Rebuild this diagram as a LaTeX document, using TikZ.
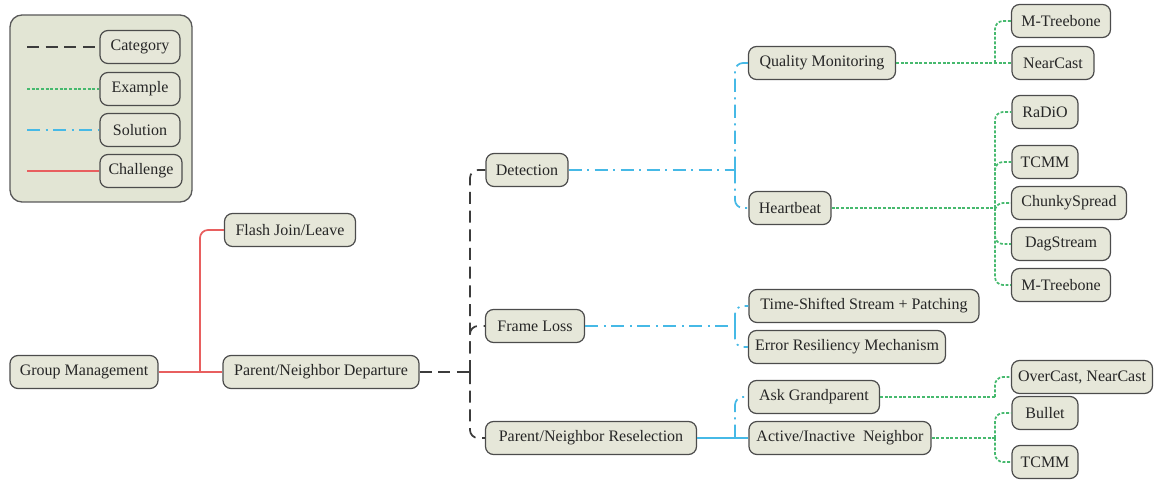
\documentclass[tikz,border=0pt]{standalone}
\usepackage{fontspec}
\setmainfont{Liberation Serif}
\begin{document}
\begin{tikzpicture}[x=0.75pt,y=-0.75pt,
  bx/.style={draw=black!70, line width=0.9pt, rounded corners=6pt, fill={rgb,255:red,230;green,231;blue,217}, inner sep=0pt, minimum height=24.75pt, text=black!85, font=\fontsize{12}{14}\selectfont},
  w/.style={minimum width=#1*0.75pt},
  cat/.style={draw={rgb,255:red,60;green,60;blue,60}, line width=1.3pt, dash pattern=on 9pt off 5pt},
  exm/.style={draw={rgb,255:red,70;green,185;blue,110}, line width=1.3pt, dash pattern=on 2.2pt off 1.3pt},
  sol/.style={draw={rgb,255:red,70;green,185;blue,230}, line width=1.3pt, dash pattern=on 10pt off 4pt on 1.5pt off 4pt},
  solf/.style={draw={rgb,255:red,70;green,185;blue,230}, line width=1.3pt},
  chal/.style={draw={rgb,255:red,232;green,95;blue,95}, line width=1.3pt},
  rc/.style={rounded corners=6pt}
]
\useasboundingbox (0,0) rectangle (1154,481);
% legend
\node[draw=black!65, line width=1pt, rounded corners=9pt, fill={rgb,255:red,226;green,229;blue,212}, minimum width=182*0.75pt, minimum height=187*0.75pt, inner sep=0pt] (leg) at (101,108.5) {};
\node[bx,w=80] (lcat) at (140,47) {Category};
\node[bx,w=80] (lex) at (140,89) {Example};
\node[bx,w=80] (lsol) at (140,130) {Solution};
\node[bx,w=82] (lch) at (141,171) {Challenge};
\coordinate (l1) at (27,47);
\coordinate (l2) at (27,89);
\coordinate (l3) at (27,130);
\coordinate (l4) at (27,171);
\draw[cat] (l1) -- (lcat.west);
\draw[exm] (l2) -- (lex.west);
\draw[sol] (l3) -- (lsol.west);
\draw[chal] (l4) -- (lch.west);
% main nodes
\node[bx,w=148] (gm) at (84,372) {Group Management};
\node[bx,w=131] (fjl) at (290,230) {Flash Join/Leave};
\node[bx,w=196] (pnd) at (321,372) {Parent/Neighbor Departure};
\node[bx,w=82] (det) at (527,170) {Detection};
\node[bx,w=99] (fl) at (535,326) {Frame Loss};
\node[bx,w=211] (pnr) at (591,438) {Parent/Neighbor Reselection};
\node[bx,w=147] (qm) at (822,63) {Quality Monitoring};
\node[bx,w=82] (hb) at (790,208) {Heartbeat};
\node[bx,w=230] (tss) at (864,306) {Time-Shifted Stream + Patching};
\node[bx,w=197] (erm) at (847,347) {Error Resiliency Mechanism};
\node[bx,w=131] (ag) at (814,397) {Ask Grandparent};
\node[bx,w=182] (ani) at (840,438) {Active/Inactive~ Neighbor};
\node[bx,w=99] (mt1) at (1061,21) {M-Treebone};
\node[bx,w=82] (nc) at (1053,63) {NearCast};
\node[bx,w=66] (radio) at (1045,112) {RaDiO};
\node[bx,w=66] (tcmm1) at (1045,162) {TCMM};
\node[bx,w=115] (chs) at (1069,203) {ChunkySpread};
\node[bx,w=99] (dag) at (1061,244) {DagStream};
\node[bx,w=99] (mt2) at (1061,285) {M-Treebone};
\node[bx,w=141] (onc) at (1082,377) {OverCast, NearCast};
\node[bx,w=66] (bul) at (1045,413) {Bullet};
\node[bx,w=66] (tcmm2) at (1045,462) {TCMM};
% junctions
\coordinate (jr) at (200,372);
\coordinate (jc) at (470,372);
\coordinate (js1) at (735,170);
\coordinate (js2) at (735,326);
\coordinate (js3) at (735,438);
\coordinate (je1) at (995,63);
\coordinate (je2) at (995,208);
\coordinate (je3) at (995,397);
\coordinate (je4) at (995,438);
% challenge
\draw[chal] (gm.east) -- (pnd.west);
\draw[chal,rc] (jr) |- (fjl.west);
% category
\draw[cat] (pnd.east) -- (jc);
\draw[cat,rc] (jc) |- (det.west);
\draw[cat,rc] (jc) |- (fl.west);
\draw[cat,rc] (jc) |- (pnr.west);
% solution
\draw[sol] (det.east) -- (js1);
\draw[sol,rc] (js1) |- (qm.west);
\draw[sol,rc] (js1) |- (hb.west);
\draw[sol] (fl.east) -- (js2);
\draw[sol,rc] (js2) |- (tss.west);
\draw[sol,rc] (js2) |- (erm.west);
\draw[solf] (pnr.east) -- (ani.west);
\draw[sol,rc] (js3) |- (ag.west);
% examples
\draw[exm] (qm.east) -- (nc.west);
\draw[exm,rc] (je1) |- (mt1.west);
\draw[exm] (hb.east) -- (je2);
\draw[exm,rc] (je2) |- (radio.west);
\draw[exm,rc] (je2) |- (tcmm1.west);
\draw[exm,rc] (je2) |- (chs.west);
\draw[exm,rc] (je2) |- (dag.west);
\draw[exm,rc] (je2) |- (mt2.west);
\draw[exm] (ag.east) -- (je3);
\draw[exm,rc] (je3) |- (onc.west);
\draw[exm] (ani.east) -- (je4);
\draw[exm,rc] (je4) |- (bul.west);
\draw[exm,rc] (je4) |- (tcmm2.west);
\end{tikzpicture}
\end{document}
